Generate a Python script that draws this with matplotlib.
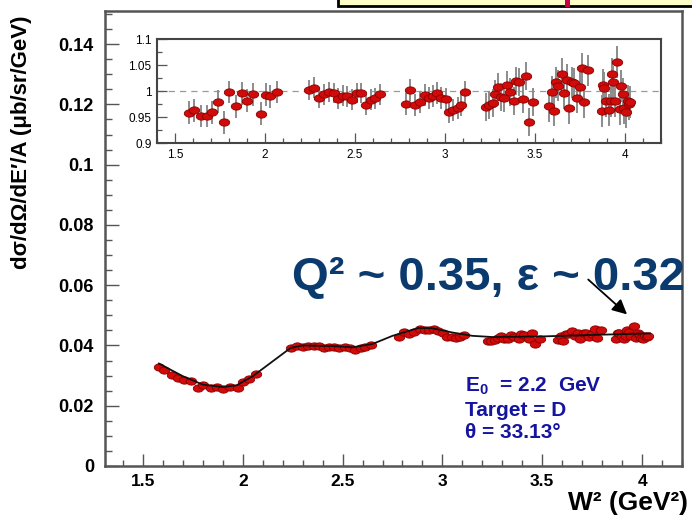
import numpy as np
import matplotlib
matplotlib.use("Agg")
import matplotlib.pyplot as plt
from matplotlib.path import Path
from matplotlib.patches import Rectangle
from matplotlib.ticker import MultipleLocator

plt.rcParams['font.family'] = ['Liberation Sans', 'DejaVu Sans']
plt.rcParams['mathtext.fontset'] = 'custom'
plt.rcParams['mathtext.rm'] = 'Liberation Sans'
plt.rcParams['mathtext.bf'] = 'Liberation Sans:bold'

# ---------------- data ----------------
w2 = [1.578, 1.606, 1.645, 1.678, 1.706, 1.74, 1.774, 1.80, 1.84, 1.87, 1.902, 1.936, 1.975, 2.003, 2.03, 2.064,
      2.243, 2.27, 2.30, 2.327, 2.355, 2.383, 2.405, 2.433, 2.455, 2.483, 2.51, 2.535, 2.56, 2.59, 2.61, 2.64,
      2.785, 2.807, 2.835, 2.86, 2.89, 2.913, 2.935, 2.958, 2.98, 3.003, 3.025, 3.047, 3.07, 3.087, 3.11,
      3.226, 3.243, 3.265, 3.276, 3.293, 3.31, 3.328, 3.345, 3.36, 3.383, 3.394, 3.41, 3.433, 3.45, 3.466, 3.49,
      3.578, 3.595, 3.606, 3.617, 3.628, 3.65, 3.662, 3.68, 3.69, 3.707, 3.718, 3.735, 3.75, 3.763, 3.774, 3.796,
      3.87, 3.88, 3.886, 3.897, 3.91, 3.92, 3.925, 3.936, 3.947, 3.958, 3.97, 3.98, 3.99, 3.997, 4.006, 4.017, 4.023, 4.03]

xsec = [0.0327, 0.0319, 0.0302, 0.0291, 0.0284, 0.0281, 0.0260, 0.0269, 0.0259, 0.0263, 0.0257, 0.0263, 0.0258, 0.0278, 0.0288, 0.0304,
        0.0393, 0.0398, 0.0395, 0.0398, 0.0398, 0.0397, 0.0393, 0.0394, 0.0394, 0.0390, 0.0394, 0.0393, 0.0384, 0.0391, 0.0395, 0.0402,
        0.0428, 0.0444, 0.0437, 0.0444, 0.0454, 0.0452, 0.0452, 0.0454, 0.0447, 0.0443, 0.0429, 0.0427, 0.0426, 0.0427, 0.0435,
        0.0416, 0.0416, 0.0418, 0.0425, 0.0431, 0.0423, 0.0423, 0.0434, 0.0428, 0.0421, 0.0437, 0.0436, 0.0423, 0.0442, 0.0404, 0.0421,
        0.0419, 0.0431, 0.0416, 0.0439, 0.0437, 0.0447, 0.0431, 0.0443, 0.0420, 0.0441, 0.0441, 0.0429, 0.0438, 0.0454, 0.0426, 0.0453,
        0.0420, 0.0442, 0.0440, 0.0430, 0.0422, 0.0430, 0.0452, 0.0445, 0.0430, 0.0464, 0.0424, 0.0443, 0.0436, 0.0425, 0.0422, 0.0432, 0.0429, 0.0431]

ratio = [0.958, 0.963, 0.952, 0.952, 0.959, 0.979, 0.940, 0.998, 0.971, 0.996, 0.981, 0.994, 0.956, 0.993, 0.990, 0.998,
         1.002, 1.006, 0.987, 0.994, 0.998, 0.996, 0.985, 0.991, 0.990, 0.983, 0.996, 0.996, 0.973, 0.983, 0.986, 0.994,
         0.975, 1.002, 0.973, 0.979, 0.992, 0.986, 0.990, 0.996, 0.986, 0.985, 0.960, 0.963, 0.967, 0.973, 0.998,
         0.969, 0.973, 0.977, 0.994, 1.008, 0.988, 0.986, 1.012, 0.998, 0.981, 1.019, 1.017, 0.985, 1.029, 0.940, 0.979,
         0.971, 0.998, 0.962, 1.017, 1.010, 1.033, 0.996, 1.021, 0.967, 1.017, 1.015, 0.987, 1.008, 1.044, 0.979, 1.040,
         0.962, 1.012, 1.006, 0.981, 0.963, 0.981, 1.033, 1.017, 0.981, 1.056, 0.965, 1.010, 0.994, 0.967, 0.960, 0.981, 0.975, 0.979]

ratio_err = ([0.022] * 16 + [0.020] * 16 + [0.021] * 15 +
             [0.027] * 16 + [0.030] * 16 + [0.031] * 18)

model_w2 = [1.58, 1.70, 1.80, 1.90, 1.97, 2.05, 2.24, 2.30, 2.45, 2.55, 2.65, 2.75, 2.88, 2.95, 3.05, 3.15, 3.25, 3.50, 3.75, 4.04]
model_xs = [0.0340, 0.0298, 0.0270, 0.0262, 0.0268, 0.0298, 0.0392, 0.0400, 0.0398, 0.0394, 0.0405, 0.0432, 0.0458, 0.0457,
            0.0443, 0.0432, 0.0428, 0.0430, 0.0435, 0.0440]

# ---------------- figure ----------------
W, H = 692, 518
fig = plt.figure(figsize=(W / 100, H / 100), dpi=100)

def fr(x0, y0, x1, y1):
    return [x0 / W, 1 - y1 / H, (x1 - x0) / W, (y1 - y0) / H]

t = np.linspace(0, 2 * np.pi, 40)
ell = Path(np.column_stack([np.cos(t), 0.7 * np.sin(t)]))

red = '#d10a0a'
redge = '#8a0000'
frame_c = '#555555'

# main axes
ax = fig.add_axes(fr(105, 11, 682, 466))
ax.plot(w2, xsec, linestyle='none', marker=ell, ms=7.5, mfc=red, mec=redge, mew=0.6, zorder=2)
ax.plot(model_w2, model_xs, color='#111111', lw=1.3, zorder=3)
ax.set_xlim(1.31, 4.20)
ax.set_ylim(0, 0.151)
ax.xaxis.set_major_locator(MultipleLocator(0.5))
ax.xaxis.set_minor_locator(MultipleLocator(0.1))
ax.yaxis.set_major_locator(MultipleLocator(0.02))
ax.yaxis.set_minor_locator(MultipleLocator(0.005))
ax.set_xticks([1.5, 2, 2.5, 3, 3.5, 4])
ax.set_xticklabels(['1.5', '2', '2.5', '3', '3.5', '4'])
ax.set_yticks([0, 0.02, 0.04, 0.06, 0.08, 0.1, 0.12, 0.14])
ax.set_yticklabels(['0', '0.02', '0.04', '0.06', '0.08', '0.1', '0.12', '0.14'])
ax.tick_params(which='both', direction='in', color=frame_c, top=False, right=False)
ax.tick_params(axis='x', which='major', length=9, width=1, pad=6, labelsize=12.5)
ax.tick_params(axis='x', which='minor', length=4.5, width=1)
ax.tick_params(axis='y', which='major', length=10, width=1, pad=8, labelsize=13)
ax.tick_params(axis='y', which='minor', length=5, width=1)
for lab in ax.get_xticklabels() + ax.get_yticklabels():
    lab.set_fontweight('bold')
for s in ax.spines.values():
    s.set_color(frame_c)
    s.set_linewidth(1.8)

# inset
ax2 = fig.add_axes(fr(157, 39, 661, 143))
ax2.axhline(1.0, color='#999999', lw=0.9, ls=(0, (5, 4)), zorder=1)
ax2.errorbar(w2, ratio, yerr=ratio_err, fmt='none', ecolor='#8c8c8c', elinewidth=1.4, capsize=0, zorder=2)
ax2.plot(w2, ratio, linestyle='none', marker=ell, ms=7.5, mfc=red, mec=redge, mew=0.6, zorder=3)
ax2.set_xlim(1.4, 4.2)
ax2.set_ylim(0.9, 1.1)
ax2.set_xticks([1.5, 2, 2.5, 3, 3.5, 4])
ax2.set_xticklabels(['1.5', '2', '2.5', '3', '3.5', '4'])
ax2.set_yticks([0.9, 0.95, 1.0, 1.05, 1.1])
ax2.set_yticklabels(['0.9', '0.95', '1', '1.05', '1.1'])
ax2.xaxis.set_minor_locator(MultipleLocator(0.1))
ax2.yaxis.set_minor_locator(MultipleLocator(0.025))
ax2.tick_params(which='both', direction='in', color=frame_c, top=False, right=False, labelsize=8.5)
ax2.tick_params(which='major', length=7, width=0.9, pad=4)
ax2.tick_params(which='minor', length=3.5, width=0.9)
for s in ax2.spines.values():
    s.set_color('#444444')
    s.set_linewidth(1.5)

# axis labels
fig.text(22 / W, 1 - 142 / H, "dσ/dΩ/dE′/A (μb/sr/GeV)", rotation=90, ha='center', va='center',
         fontsize=16, fontweight='bold', color='black')
fig.text(688 / W, 1 - 503 / H, "W² (GeV²)", ha='right', va='center', fontsize=19,
         fontweight='bold', color='black')

# info text
info_c = '#1414a0'
fig.text(465 / W, 1 - 386 / H, r"E$_\mathbf{0}$  = 2.2  GeV", ha='left', va='center', fontsize=15,
         fontweight='bold', color=info_c)
fig.text(465 / W, 1 - 410 / H, "Target = D", ha='left', va='center', fontsize=15,
         fontweight='bold', color=info_c)
fig.text(465 / W, 1 - 433 / H, "θ = 33.13°", ha='left', va='center', fontsize=15,
         fontweight='bold', color=info_c)

# headline text and arrow
fig.text(292 / W, 1 - 290 / H, "Q² ~ 0.35, ε ~ 0.32", ha='left', va='baseline', fontsize=34,
         fontweight='bold', color='#0b3a6e', zorder=10)
ax.annotate('', xy=(3.935, 0.0497), xytext=(3.72, 0.0625),
            arrowprops=dict(arrowstyle='-|>', mutation_scale=22, lw=1.3, color='black'),
            zorder=11, annotation_clip=False)

# top yellow box (cropped slide element)
fig.patches.append(Rectangle((338 / W, 1 - 6 / H), (W - 338 + 10) / W, 20 / H, transform=fig.transFigure,
                             facecolor='#fdfdc8', edgecolor='black', lw=2, zorder=5))
fig.patches.append(Rectangle((565 / W, 1 - 7 / H), 5 / W, 10 / H, transform=fig.transFigure,
                             facecolor='#c8004a', edgecolor='none', zorder=6))

fig.savefig('out.png', dpi=100)
